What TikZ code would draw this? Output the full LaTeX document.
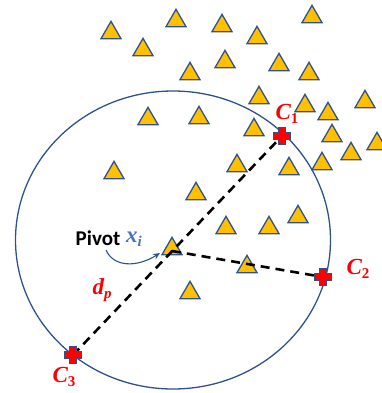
\documentclass[tikz,border=0pt]{standalone}
\usepackage{fontspec}
\newfontfamily\calib{Carlito}
\newfontfamily\lsr{Liberation Serif}
\usetikzlibrary{shapes.geometric,arrows.meta}
\definecolor{triFill}{RGB}{255,192,0}
\definecolor{triEdge}{RGB}{47,82,143}
\definecolor{circEdge}{RGB}{47,82,143}
\definecolor{labRed}{RGB}{255,0,0}
\definecolor{xiBlue}{RGB}{68,114,196}
\tikzset{
  tri/.style={regular polygon, regular polygon sides=3, minimum size=23.1pt,
    inner sep=0pt, fill=triFill, draw=triEdge, line width=1.3pt, yshift=-2.9pt},
  dashline/.style={line width=2.6pt, dash pattern=on 9pt off 6pt, black},
  clab/.style={text=labRed, font=\lsr\bfseries\fontsize{23}{25}\selectfont, inner sep=0pt},
  plusmark/.style={fill=labRed, draw=triEdge, line width=1.1pt},
}
\newcommand{\mysub}[1]{\raisebox{-4.5pt}{\fontsize{15}{15}\selectfont #1}}
\newcommand{\plusat}[1]{%
  \path[plusmark] ([shift={(-3.5pt,8.5pt)}]#1) -- ++(7pt,0pt) -- ++(0pt,-5pt) -- ++(5pt,0pt)
   -- ++(0pt,-7pt) -- ++(-5pt,0pt) -- ++(0pt,-5pt) -- ++(-7pt,0pt) -- ++(0pt,5pt)
   -- ++(-5pt,0pt) -- ++(0pt,7pt) -- ++(5pt,0pt) -- cycle;}
\begin{document}
\begin{tikzpicture}[x=1pt,y=-1pt]
\useasboundingbox (0,0) rectangle (382,393);
% circle
\draw[circEdge, line width=1.3pt] (173,240) ellipse [x radius=157.5pt, y radius=149pt];
% triangles
\foreach \n/\x/\y in {a/111/30, b/143/47, c/176/18, d/222/23, e/312/14, f/257/35,
  g/225/59, h/279/62, i/309/71, j/190/71, k/259/95, l/148/116, m/199/115,
  n/114/170, o/254/127, p/237/163, q/289/166, r/196/191, s/226/225, t/269/225,
  u/298/214, v/247/264, w/190/290, x/305/103, y/328/111, z/365/99,
  aa/332/133, ab/351/151, ac/377/141, ad/322/161}
  \node[tri] (t\n) at (\x,\y) {};
\node[tri] (pivottri) at (172,246) {};
% key points
\coordinate (P) at (172,251);
\coordinate (C1) at (282,136);
\coordinate (C2) at (323,277);
\coordinate (C3) at (73,355);
% dashed connectors
\draw[dashline] (C3) -- (C1);
\draw[dashline] (P) -- (C2);
% cross markers
\plusat{C1}
\plusat{C2}
\plusat{C3}
% labels
\node[clab] (l1) at (287,114) {\itshape C\mysub{\upshape 1}};
\node[clab] (l2) at (358,269) {\itshape C\mysub{\upshape 2}};
\node[clab] (l3) at (64,377) {\itshape C\mysub{\upshape 3}};
\node[clab] (ldp) at (102,290) {\itshape d\mysub{p}};
\node[inner sep=0pt, font=\calib\bfseries\fontsize{21}{24}\selectfont] (pivotlab) at (98,238) {Pivot};
\node[inner sep=0pt, text=xiBlue, font=\lsr\bfseries\itshape\fontsize{23}{25}\selectfont] (xilab) at (134,239) {x\mysub{i}};
% curved arrow
\coordinate (arrS) at (106,250);
\coordinate (arrE) at (160,253);
\draw[circEdge, line width=1.1pt, -{Stealth[length=7pt,width=6pt]}] (arrS) .. controls (114,268) and (138,267) .. (arrE);
\end{tikzpicture}
\end{document}
